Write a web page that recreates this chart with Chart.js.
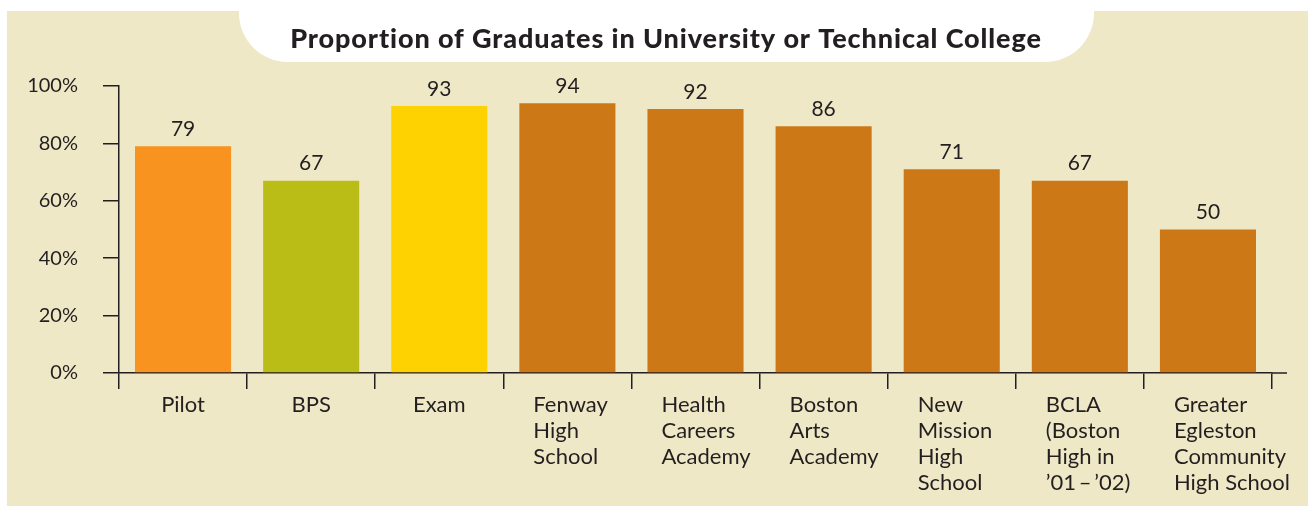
<!DOCTYPE html>
<html>
<head>
<meta charset="utf-8">
<script src="https://cdn.jsdelivr.net/npm/chart.js@4/dist/chart.umd.min.js"></script>
<style>
    html, body { margin: 0; padding: 0; background: #ffffff; }
    #wrap { width: 1308px; height: 506px; position: relative; }
</style>
</head>
<body>
<div id="wrap"><canvas id="gradChart" width="1308" height="506"></canvas></div>
<script>
// Chart data
const chartTitle = 'Proportion of Graduates in University or Technical College';
const categories = [
    ['Pilot'],
    ['BPS'],
    ['Exam'],
    ['Fenway', 'High', 'School'],
    ['Health', 'Careers', 'Academy'],
    ['Boston', 'Arts', 'Academy'],
    ['New', 'Mission', 'High', 'School'],
    ['BCLA', '(Boston', 'High in', '\u201901\u2009\u2013\u2009\u201902)'],
    ['Greater', 'Egleston', 'Community', 'High School']
];
const gradValues = [79, 67, 93, 94, 92, 86, 71, 67, 50];
const barColors = ['#F7931E', '#BBBD17', '#FDD200', '#CC7817', '#CC7817', '#CC7817', '#CC7817', '#CC7817', '#CC7817'];
const yTicks = [0, 20, 40, 60, 80, 100];

const ink = '#231F20';
const panelColor = '#EFE8C7';
const fontFamily = 'Lato, "Open Sans", sans-serif';

// Background panel, title tab, value labels and category labels
const decorPlugin = {
    id: 'decor',
    beforeDraw(chart) {
        const ctx = chart.ctx;
        ctx.save();
        ctx.fillStyle = panelColor;
        ctx.fillRect(7, 11, chart.width - 7, chart.height - 11);

        // white tab behind title
        const l = 239, r = 1094, t = 11, b = 62, rad = 49;
        ctx.fillStyle = '#ffffff';
        ctx.beginPath();
        ctx.moveTo(l, t);
        ctx.lineTo(r, t);
        ctx.arc(r - rad, b - rad, rad, 0, Math.PI / 2);
        ctx.lineTo(l + rad, b);
        ctx.arc(l + rad, b - rad, rad, Math.PI / 2, Math.PI);
        ctx.closePath();
        ctx.fill();

        ctx.fillStyle = ink;
        ctx.font = '900 27px ' + fontFamily;
        ctx.letterSpacing = '0.9px';
        ctx.textAlign = 'center';
        ctx.textBaseline = 'middle';
        ctx.fillText(chartTitle, 666, 39);
        ctx.restore();
    },
    afterDraw(chart) {
        const ctx = chart.ctx;
        const xScale = chart.scales.x;
        const area = chart.chartArea;
        ctx.save();

        // axis runs a little past the last tick
        ctx.strokeStyle = ink;
        ctx.lineWidth = 1.5;
        ctx.beginPath();
        ctx.moveTo(area.right, area.bottom);
        ctx.lineTo(area.right + 15, area.bottom);
        ctx.stroke();

        // value labels above bars
        ctx.fillStyle = ink;
        ctx.font = '21px ' + fontFamily;
        ctx.textAlign = 'center';
        ctx.textBaseline = 'middle';
        const meta = chart.getDatasetMeta(0);
        meta.data.forEach((bar, i) => {
            ctx.fillText(String(gradValues[i]), bar.x, bar.y - 17);
        });

        // category labels: lines left aligned, block centred unless it would start too far left
        ctx.font = '22px ' + fontFamily;
        ctx.textAlign = 'left';
        categories.forEach((lines, i) => {
            const cx = xScale.getPixelForValue(i);
            const bar = meta.data[i];
            const w = Math.max(...lines.map(s => ctx.measureText(s).width));
            const x0 = Math.max(cx - w / 2, bar.x - bar.width / 2 + 14);
            lines.forEach((s, j) => {
                ctx.fillText(s, x0, 405 + j * 26);
            });
        });
        ctx.restore();
    }
};

const ctx = document.getElementById('gradChart');
new Chart(ctx, {
    type: 'bar',
    data: {
        labels: categories.map(c => c.join(' ')),
        datasets: [{
            data: gradValues,
            backgroundColor: barColors,
            borderWidth: 0,
            barPercentage: 0.75,
            categoryPercentage: 1
        }]
    },
    options: {
        responsive: false,
        animation: false,
        layout: {
            padding: { top: 86, right: 36, bottom: 0, left: 0 }
        },
        plugins: {
            legend: { display: false },
            tooltip: { enabled: false },
            title: { display: false }
        },
        scales: {
            x: {
                offset: true,
                grid: {
                    offset: true,
                    drawOnChartArea: false,
                    drawTicks: true,
                    tickLength: 16,
                    color: ink,
                    lineWidth: 1.5
                },
                border: { display: true, color: ink, width: 1.5 },
                ticks: { display: false },
                afterFit(scale) { scale.height = 133; }
            },
            y: {
                min: 0,
                max: 100,
                afterBuildTicks(scale) {
                    scale.ticks = yTicks.map(v => ({ value: v }));
                },
                grid: {
                    drawOnChartArea: false,
                    drawTicks: true,
                    tickLength: 16,
                    color: ink,
                    lineWidth: 1.5
                },
                border: { display: true, color: ink, width: 1.5 },
                ticks: {
                    color: ink,
                    padding: 25,
                    font: { family: fontFamily, size: 20 },
                    callback: v => v + '%'
                },
                afterFit(scale) { scale.width = 119; }
            }
        }
    },
    plugins: [decorPlugin]
});
</script>
</body>
</html>
